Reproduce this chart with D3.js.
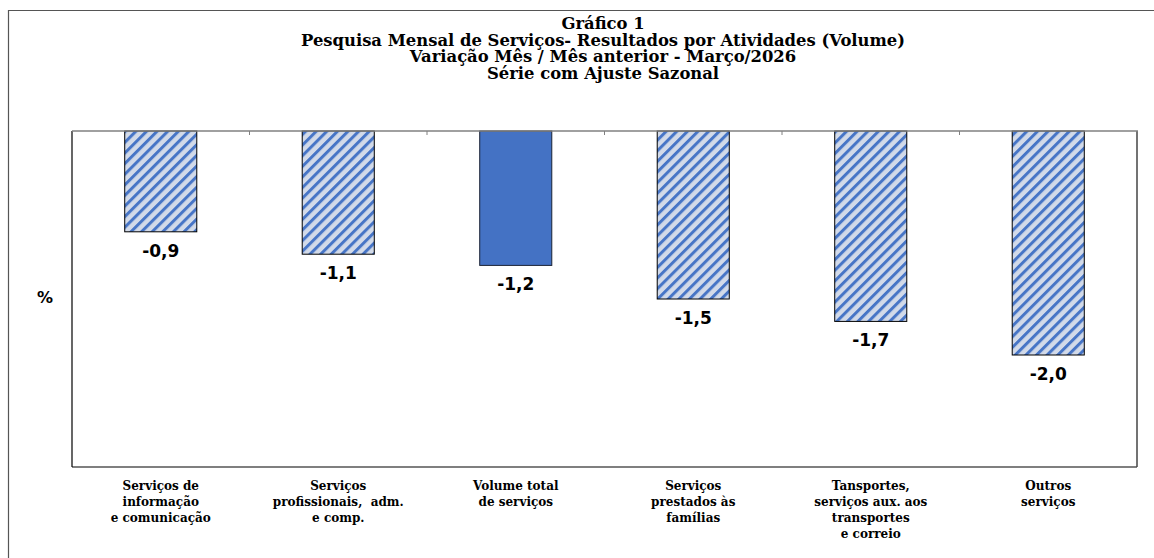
<!DOCTYPE html>
<html lang="pt">
<head>
<meta charset="utf-8">
<title>Gráfico 1</title>
<script src="https://cdn.jsdelivr.net/npm/d3@7"></script>
<style>
body { margin: 0; background: #fff; }
.title { font-family: "DejaVu Serif", serif; font-weight: bold; font-size: 16.4px; fill: #000; }
.cat { font-family: "DejaVu Serif", serif; font-weight: bold; font-size: 12px; fill: #000; }
.val { font-family: "DejaVu Sans", sans-serif; font-weight: bold; font-size: 17px; fill: #000; }
</style>
</head>
<body>
<script>
var w = 1154, h = 558;

// data
var categories = [
  ["Serviços de", "informação", "e comunicação"],
  ["Serviços", "profissionais,  adm.", "e comp."],
  ["Volume total", "de serviços"],
  ["Serviços", "prestados às", "famílias"],
  ["Tansportes,", "serviços aux. aos", "transportes", "e correio"],
  ["Outros", "serviços"]
];
var values = [-0.9, -1.1, -1.2, -1.5, -1.7, -2.0];
var highlight = [false, false, true, false, false, false];
var titleLines = [
  "Gráfico 1",
  "Pesquisa Mensal de Serviços- Resultados por Atividades (Volume)",
  "Variação Mês / Mês anterior - Março/2026",
  "Série com Ajuste Sazonal"
];

var plotLeft = 72, plotRight = 1137, plotTop = 131, plotBottom = 467;

var svg = d3.select("body").append("svg")
  .attr("width", w).attr("height", h);

// hatch pattern
var defs = svg.append("defs");
var pat = defs.append("pattern")
  .attr("id", "hatch")
  .attr("patternUnits", "userSpaceOnUse")
  .attr("width", 7.5).attr("height", 7.5)
  .attr("patternTransform", "rotate(45)");
pat.append("rect").attr("width", 7.5).attr("height", 7.5).attr("fill", "#d2dae9");
pat.append("rect").attr("x", 0).attr("width", 3).attr("height", 7.5).attr("fill", "#4775c6");

// outer frame (left + top only visible)
svg.append("path")
  .attr("d", "M8.5," + h + "V10.5H" + w)
  .attr("fill", "none").attr("stroke", "#555").attr("stroke-width", 1.2);

var x = d3.scaleBand()
  .domain(d3.range(values.length))
  .range([plotLeft, plotRight])
  .paddingInner(0.594).paddingOuter(0.297);

var y = d3.scaleLinear().domain([-3, 0]).range([plotBottom, plotTop]);

// bars
svg.selectAll(".bar")
  .data(values)
  .enter().append("rect")
  .attr("class", "bar")
  .attr("x", function(d, i) { return x(i); })
  .attr("y", y(0))
  .attr("width", x.bandwidth())
  .attr("height", function(d) { return y(d) - y(0); })
  .attr("fill", function(d, i) { return highlight[i] ? "#4472c4" : "url(#hatch)"; })
  .attr("stroke", function(d, i) { return highlight[i] ? "#1a2233" : "#000"; })
  .attr("stroke-width", 1);

// plot frame
svg.append("line").attr("x1", plotLeft).attr("x2", plotLeft).attr("y1", plotTop).attr("y2", plotBottom)
  .attr("stroke", "#000").attr("stroke-width", 1.2);
svg.append("line").attr("x1", plotLeft).attr("x2", plotRight).attr("y1", plotBottom).attr("y2", plotBottom)
  .attr("stroke", "#000").attr("stroke-width", 1.2);
svg.append("line").attr("x1", plotRight).attr("x2", plotRight).attr("y1", plotTop).attr("y2", plotBottom)
  .attr("stroke", "#444").attr("stroke-width", 1.5);

// zero line with small ticks at category boundaries
var step = x.step();
svg.append("line").attr("x1", plotLeft).attr("x2", plotRight + 1).attr("y1", y(0)).attr("y2", y(0))
  .attr("stroke", "#808080").attr("stroke-width", 1.5);
svg.selectAll(".btick")
  .data(d3.range(1, values.length))
  .enter().append("line")
  .attr("x1", function(i) { return plotLeft + i * step; })
  .attr("x2", function(i) { return plotLeft + i * step; })
  .attr("y1", y(0)).attr("y2", y(0) + 4)
  .attr("stroke", "#808080");

// value labels
svg.selectAll(".vlab")
  .data(values)
  .enter().append("text")
  .attr("class", "val vlab")
  .attr("text-anchor", "middle")
  .attr("x", function(d, i) { return x(i) + x.bandwidth() / 2; })
  .attr("y", function(d) { return y(d) + 25; })
  .text(function(d) { return d3.format(".1f")(d).replace(".", ",").replace("−", "-"); });

// category labels
var cats = svg.selectAll(".cat")
  .data(categories)
  .enter().append("text")
  .attr("class", "cat")
  .attr("text-anchor", "middle")
  .attr("transform", function(d, i) { return "translate(" + (x(i) + x.bandwidth() / 2) + ",490)"; });
cats.selectAll("tspan")
  .data(function(d) { return d; })
  .enter().append("tspan")
  .attr("x", 0)
  .attr("y", function(d, j) { return j * 16; })
  .style("white-space", "pre")
  .text(function(d) { return d; });

// y unit
svg.append("text")
  .attr("class", "val")
  .attr("x", 45).attr("y", 303)
  .attr("text-anchor", "middle")
  .style("font-size", "16px")
  .text("%");

// title
svg.append("text")
  .attr("class", "title")
  .attr("text-anchor", "middle")
  .selectAll("tspan")
  .data(titleLines)
  .enter().append("tspan")
  .attr("x", 603)
  .attr("y", function(d, i) { return 29 + i * 16.5; })
  .text(function(d) { return d; });
</script>
</body>
</html>
